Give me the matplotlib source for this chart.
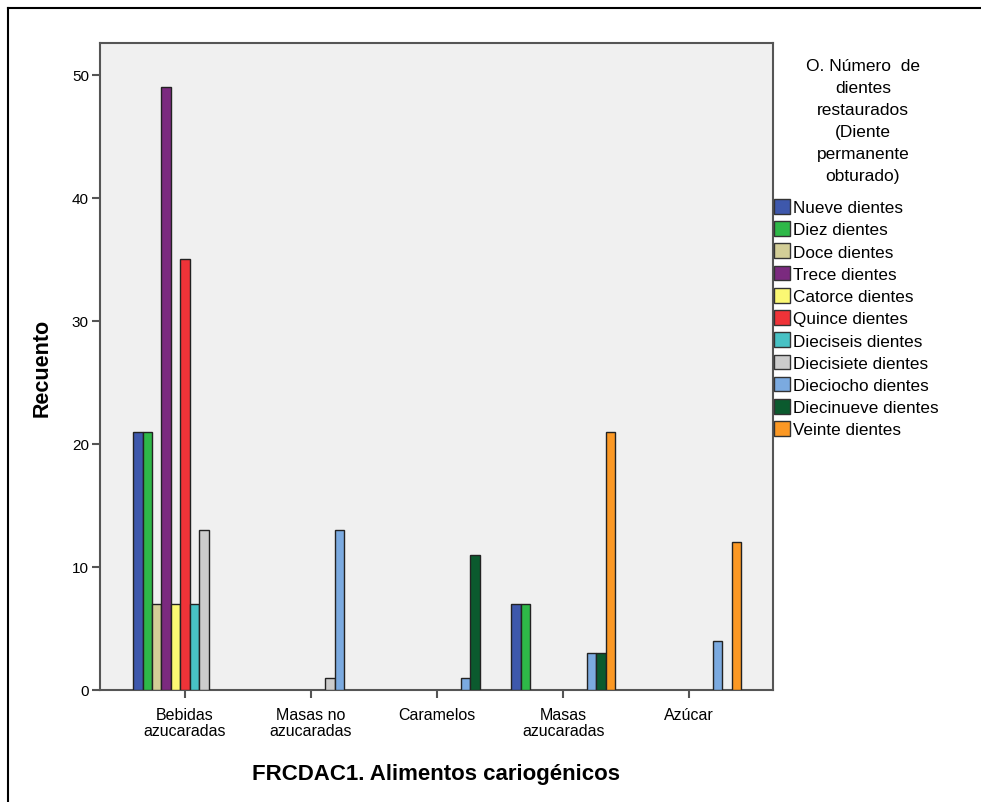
import matplotlib
matplotlib.use("Agg")
import matplotlib.pyplot as plt
from matplotlib.patches import Patch
from matplotlib.lines import Line2D
import numpy as np

categories = ["Bebidas\nazucaradas", "Masas no\nazucaradas", "Caramelos", "Masas\nazucaradas", "Azúcar"]
series_names = ["Nueve dientes", "Diez dientes", "Doce dientes", "Trece dientes", "Catorce dientes",
                "Quince dientes", "Dieciseis dientes", "Diecisiete dientes", "Dieciocho dientes",
                "Diecinueve dientes", "Veinte dientes"]
colors = ["#3E58AC", "#2EB848", "#D3CE97", "#7B2A7F", "#FBF873", "#EF3338", "#48C2C5",
          "#CCCCCC", "#7BAAE0", "#0B5A2E", "#FB9824"]

nueve      = [21, 0, 0, 7, 0]
diez       = [21, 0, 0, 7, 0]
doce       = [7, 0, 0, 0, 0]
trece      = [49, 0, 0, 0, 0]
catorce    = [7, 0, 0, 0, 0]
quince     = [35, 0, 0, 0, 0]
dieciseis  = [7, 0, 0, 0, 0]
diecisiete = [13, 1, 0, 0, 0]
dieciocho  = [0, 13, 1, 3, 4]
diecinueve = [0, 0, 11, 3, 0]
veinte     = [0, 0, 0, 21, 12]
values = [nueve, diez, doce, trece, catorce, quince, dieciseis, diecisiete,
          dieciocho, diecinueve, veinte]

regular = ["Liberation Sans", "DejaVu Sans"]

fig = plt.figure(figsize=(9.81, 8.03), dpi=100)
ax = fig.add_axes([100/981, 1-691/803, (773-100)/981, (691-44)/803])
ax.set_facecolor("#F0F0F0")

x = np.arange(len(categories))
w = 0.075
n = len(series_names)
for i, (vals, col) in enumerate(zip(values, colors)):
    off = (i - (n - 1) / 2) * w
    for xi, v in zip(x, vals):
        if v > 0:
            ax.bar(xi + off, v, width=w, color=col, edgecolor="#222222", linewidth=1.0, zorder=3)

ax.set_xlim(-0.675, 4.665)
ax.set_ylim(0, 52.6)
ax.set_xticks(x)
ax.set_xticklabels(categories, fontfamily=regular, fontsize=11.5, linespacing=1.15)
ax.set_yticks([0, 10, 20, 30, 40, 50])
ax.set_yticklabels(["0", "10", "20", "30", "40", "50"], fontfamily=regular, fontsize=11)
for s in ax.spines.values():
    s.set_color("#555555")
    s.set_linewidth(1.5)
ax.tick_params(axis="both", direction="out", length=6, width=1.5, color="#555555")
ax.tick_params(axis="x", pad=6)
ax.tick_params(axis="y", pad=2)

ax.set_xlabel("FRCDAC1. Alimentos cariogénicos", fontfamily=regular, fontsize=16,
              fontweight="bold", labelpad=18)
ax.set_ylabel("Recuento", fontfamily=regular, fontsize=15.5, fontweight="bold", labelpad=14)

handles = [Patch(facecolor=c, edgecolor="#333333", linewidth=1.0, label=nm)
           for c, nm in zip(colors, series_names)]
fig.text(863/981, 1-59/803,
         "O. Número  de\ndientes\nrestaurados\n(Diente\npermanente\nobturado)",
         ha="center", va="top", fontfamily=regular, fontsize=12.5, linespacing=1.58)
leg = fig.legend(handles=handles, loc="upper left", bbox_to_anchor=(774/981, 1-200/803),
                 frameon=False, prop={"family": regular, "size": 12.3},
                 handlelength=0.95, handleheight=0.95, handletextpad=0.15,
                 labelspacing=0.35, borderaxespad=0, borderpad=0)

# outer border (left and top visible)
fig.add_artist(Line2D([8/981, 8/981], [0, 1-9/803], transform=fig.transFigure, color="black", lw=1.5))
fig.add_artist(Line2D([8/981, 1], [1-9/803, 1-9/803], transform=fig.transFigure, color="black", lw=1.5))

fig.savefig("out.png", dpi=100)
